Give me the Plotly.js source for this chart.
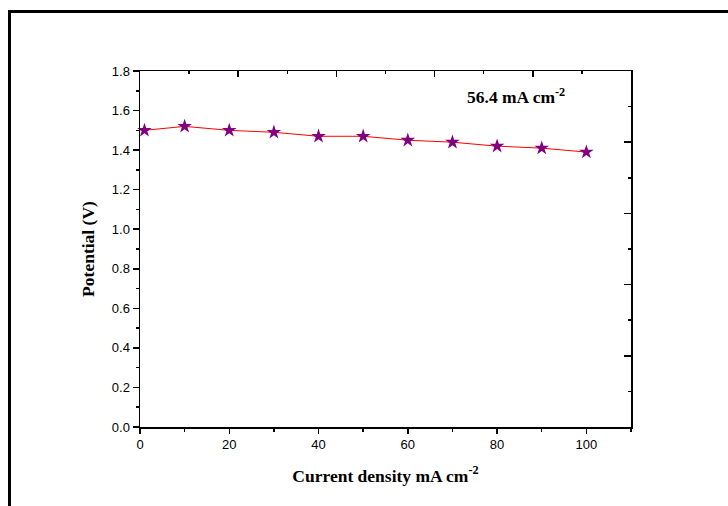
<!DOCTYPE html>
<html>
<head>
<meta charset="utf-8">
<script src="https://cdn.plot.ly/plotly-3.0.1.min.js"></script>
<style>
html,body{margin:0;padding:0;background:#fff;}
#chart{width:728px;height:506px;}
</style>
</head>
<body>
<div id="chart"></div>
<script>
// Data
const currentDensity = [1, 10, 20, 30, 40, 50, 60, 70, 80, 90, 100];
const potential = [1.50, 1.52, 1.50, 1.49, 1.47, 1.47, 1.45, 1.44, 1.42, 1.41, 1.39];
const xTitle = 'Current density mA cm<sup>-2</sup>';
const yTitle = 'Potential (V)';
const noteText = '56.4 mA cm<sup>-2</sup>';

const L = 140, R = 631, T = 71, B = 427, W = 728, H = 506;
const px = v => (v - L) / (R - L);
const py = v => (B - v) / (B - T);

const tickFont = {family: 'Liberation Sans, Arial, sans-serif', size: 13, color: '#000'};
const titleFont = {family: 'Liberation Serif, Times New Roman, serif', size: 17.5, color: '#000'};

const trace = {
  x: currentDensity,
  y: potential,
  type: 'scatter',
  mode: 'lines+markers',
  line: {color: '#ff0000', width: 1},
  marker: {symbol: 'star', size: 11, color: '#800080', line: {width: 0}},
  showlegend: false,
  cliponaxis: false
};

const layout = {
  width: W, height: H,
  margin: {l: L, r: W - R, t: T, b: H - B, pad: 0},
  paper_bgcolor: '#fff', plot_bgcolor: '#fff',
  showlegend: false,
  xaxis: {
    range: [0, 110], tick0: 0, dtick: 20, autorange: false,
    showgrid: false, zeroline: false,
    showline: true, linecolor: '#000', linewidth: 1.5,
    ticks: 'outside', ticklen: 5, tickwidth: 1.5, tickcolor: '#000',
    minor: {dtick: 10, tick0: 0, ticks: 'outside', ticklen: 3, tickwidth: 1.5, tickcolor: '#000', showgrid: false},
    tickfont: tickFont,
    title: {text: '<b>' + xTitle + '</b>', font: titleFont, standoff: 18},
    automargin: false
  },
  yaxis: {
    range: [0, 1.8], tick0: 0, dtick: 0.2, autorange: false,
    tickformat: '.1f',
    showgrid: false, zeroline: false,
    showline: true, linecolor: '#000', linewidth: 1.5,
    ticks: 'outside', ticklen: 6, tickwidth: 1.5, tickcolor: '#000',
    minor: {dtick: 0.1, tick0: 0, ticks: 'outside', ticklen: 3, tickwidth: 1.5, tickcolor: '#000', showgrid: false},
    tickfont: tickFont,
    title: {text: '<b>' + yTitle + '</b>', font: titleFont, standoff: 12},
    automargin: false
  },
  xaxis2: {
    overlaying: 'x', side: 'top', anchor: 'y',
    range: [0, 110], tick0: 0, dtick: 22, autorange: false,
    showgrid: false, zeroline: false, showticklabels: false,
    showline: true, linecolor: '#000', linewidth: 1.5,
    ticks: 'inside', ticklen: 6, tickwidth: 1.5, tickcolor: '#000',
    minor: {dtick: 11, tick0: 0, ticks: 'inside', ticklen: 3, tickwidth: 1.5, tickcolor: '#000', showgrid: false}
  },
  yaxis2: {
    overlaying: 'y', side: 'right', anchor: 'x',
    range: [0, 1.8], tick0: 0, dtick: 0.36, autorange: false,
    showgrid: false, zeroline: false, showticklabels: false,
    showline: true, linecolor: '#000', linewidth: 1.5,
    ticks: 'inside', ticklen: 7, tickwidth: 1.5, tickcolor: '#000',
    minor: {dtick: 0.18, tick0: 0, ticks: 'inside', ticklen: 3, tickwidth: 1.5, tickcolor: '#000', showgrid: false}
  },
  annotations: [{
    text: '<b>' + noteText + '</b>',
    xref: 'paper', yref: 'paper',
    x: px(465), y: py(96), xanchor: 'left', yanchor: 'middle',
    showarrow: false, font: titleFont
  }],
  shapes: [
    {type: 'line', xref: 'paper', yref: 'paper', x0: px(8), x1: px(W), y0: py(11.5), y1: py(11.5), line: {color: '#000', width: 3}},
    {type: 'line', xref: 'paper', yref: 'paper', x0: px(9.5), x1: px(9.5), y0: py(10), y1: py(H), line: {color: '#000', width: 3}}
  ]
};

const ghost = {x: [], y: [], xaxis: 'x2', yaxis: 'y2', type: 'scatter', mode: 'markers', showlegend: false, hoverinfo: 'skip'};

Plotly.newPlot('chart', [trace, ghost], layout, {displayModeBar: false, staticPlot: true});
</script>
</body>
</html>
